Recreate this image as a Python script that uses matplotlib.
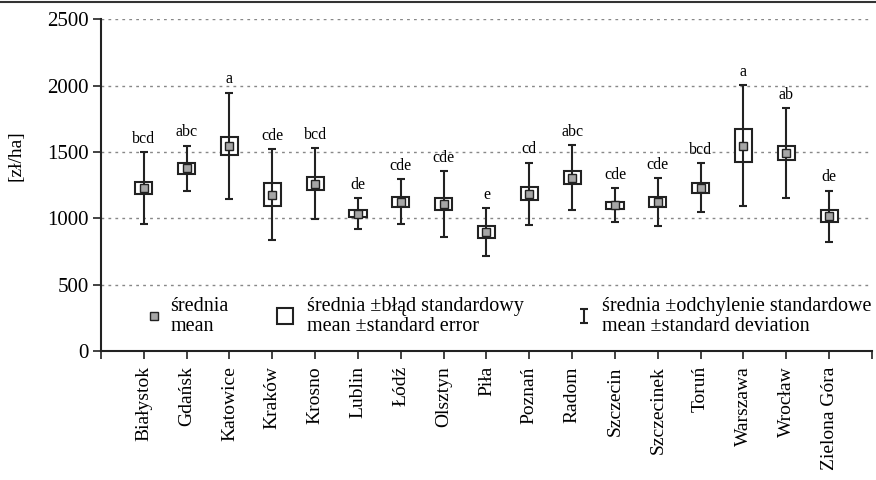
import matplotlib.pyplot as plt
import numpy as np
from matplotlib.lines import Line2D
from matplotlib.path import Path

plt.rcParams['font.family'] = ['Liberation Serif', 'DejaVu Serif']

# miasta i wartości [zł/ha]
miasta = ["Białystok", "Gdańsk", "Katowice", "Kraków", "Krosno", "Lublin", "Łódź",
          "Olsztyn", "Piła", "Poznań", "Radom", "Szczecin", "Szczecinek", "Toruń",
          "Warszawa", "Wrocław", "Zielona Góra"]
srednia = [1228, 1376, 1546, 1178, 1260, 1035, 1125, 1108, 895, 1185, 1306,
           1098, 1120, 1230, 1546, 1491, 1015]
blad_std = [43, 43, 69, 88, 49, 27, 37, 45, 44, 50, 50, 27, 37, 37, 124, 55, 47]
odch_std = [270, 170, 400, 343, 268, 117, 168, 247, 179, 234, 245, 127, 180, 183, 455, 337, 192]
grupy = ["bcd", "abc", "a", "cde", "bcd", "de", "cde", "cde", "e", "cd", "abc",
         "cde", "cde", "bcd", "a", "ab", "de"]

x = np.arange(1, len(miasta) + 1)
srednia = np.array(srednia)
blad_std = np.array(blad_std)
odch_std = np.array(odch_std)

fig = plt.figure(figsize=(8.76, 4.8), dpi=100)
ax = fig.add_axes([0.1153, 0.269, 0.8801, 0.691])

# siatka
for v in [500, 1000, 1500, 2000, 2500]:
    ax.axhline(v, color="#888888", lw=1, ls=(0, (2, 3)), zorder=0)

# pudełka: średnia +- błąd standardowy
ax.bar(x, 2 * blad_std, bottom=srednia - blad_std, width=0.4, color="white",
       edgecolor="#222222", linewidth=1.5, zorder=2)
# wąsy: średnia +- odchylenie standardowe
ax.errorbar(x, srednia, yerr=odch_std, fmt="none", ecolor="#222222", elinewidth=1.5,
            capsize=3, capthick=1.5, zorder=3)
# średnia
ax.plot(x, srednia, ls="none", marker="s", ms=5.5, mfc="#a6a6a6", mec="#222222",
        mew=1, zorder=4)

for xi, top, g in zip(x, srednia + odch_std, grupy):
    ax.text(xi, top + 40, g, ha="center", va="bottom", fontsize=11.5)

ax.set_xlim(0, 18)
ax.set_ylim(0, 2500)
ax.set_yticks([0, 500, 1000, 1500, 2000, 2500])
ax.set_xticks(np.arange(0, 19))
ax.set_xticklabels([""] + miasta + [""], rotation=90, fontsize=14)
ax.tick_params(axis="both", direction="out", length=6, width=1.2, color="#222222")
ax.tick_params(axis="y", labelsize=15, pad=3)
ax.tick_params(axis="x", pad=5)
for s in ["top", "right"]:
    ax.spines[s].set_visible(False)
for s in ["left", "bottom"]:
    ax.spines[s].set_linewidth(1.5)
    ax.spines[s].set_color("#222222")
ax.set_ylabel("[zł/ha]", fontsize=14)
ax.yaxis.set_label_coords(-0.099, 0.59)

# legenda
i_path = Path([(-0.6, 1), (0.6, 1), (0, 1), (0, -1), (-0.6, -1), (0.6, -1)],
              [Path.MOVETO, Path.LINETO, Path.MOVETO, Path.LINETO, Path.MOVETO, Path.LINETO])
leg_x = [0.069, 0.239, 0.627]
leg_tx = [0.090, 0.267, 0.650]
leg_y = 0.104
ax.plot(leg_x[0], leg_y, transform=ax.transAxes, ls="none", marker="s", ms=5.5,
        mfc="#a6a6a6", mec="#222222", mew=1, clip_on=False)
ax.plot(leg_x[1], leg_y, transform=ax.transAxes, ls="none", marker="s", ms=12,
        mfc="white", mec="#222222", mew=1.5, clip_on=False)
ax.plot(leg_x[2], leg_y, transform=ax.transAxes, ls="none", marker=i_path, ms=9.5,
        mec="#222222", mew=1.5, clip_on=False)
etykiety = ["średnia\nmean", "średnia ±błąd standardowy\nmean ±standard error",
            "średnia ±odchylenie standardowe\nmean ±standard deviation"]
for tx, lab in zip(leg_tx, etykiety):
    ax.text(tx, leg_y, lab, transform=ax.transAxes, ha="left", va="center",
            fontsize=14.5, linespacing=1.1)

fig.add_artist(Line2D([0, 1], [0.996, 0.996], color="#333333", lw=1.5))

fig.savefig("out.png", dpi=100)
